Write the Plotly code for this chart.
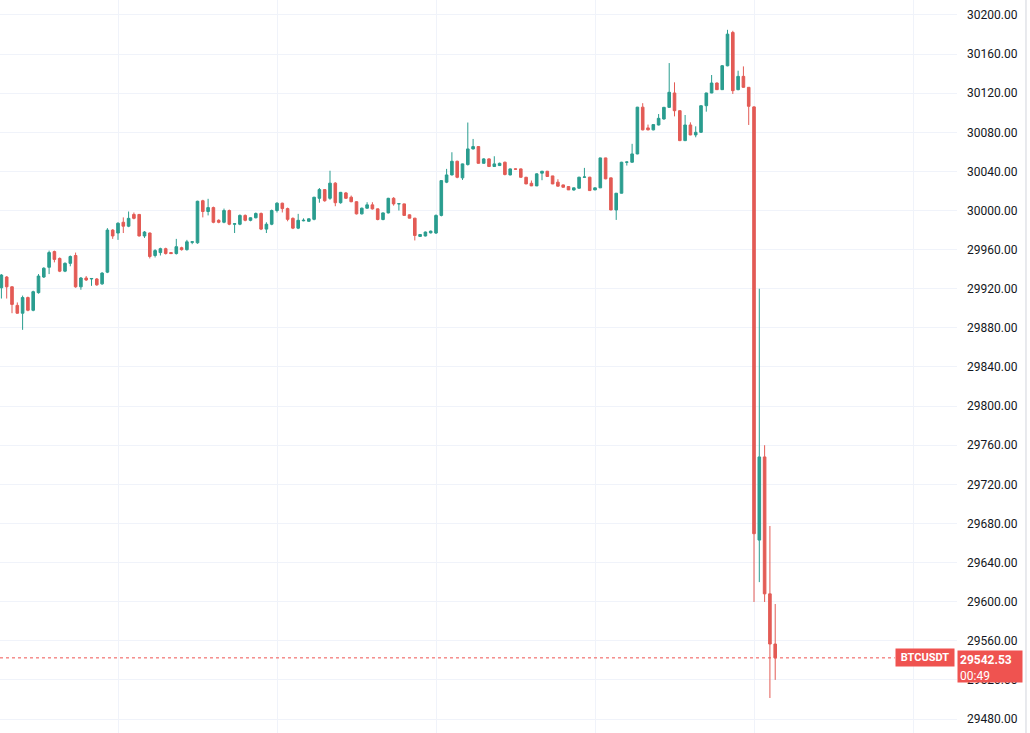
import pandas as pd
import plotly.graph_objects as go

# 1-minute BTCUSDT candles
opens = [
    29921, 29932, 29922, 29903, 29895, 29911, 29898, 29916, 29932, 29942,
    29958, 29951, 29938, 29946, 29954, 29922, 29931, 29930, 29930, 29925,
    29937, 29980, 29977, 29988, 29984, 29996, 29996, 29974, 29977, 29954,
    29957, 29961, 29957, 29956, 29962, 29960, 29967.5, 29967, 30010, 29999,
    30003, 29990, 29988, 30000, 29986, 29986, 29995, 29990, 29992.6, 29997,
    29981, 29986, 30000, 30007.5, 30002, 29992, 29982, 29989.5, 29989, 29991,
    30012.5, 30021.4, 30012.5, 30028, 30008, 30018, 30013.6, 30009, 29996.6, 30002.4,
    30005.8, 30001.7, 29990.8, 29997.6, 30012.5, 30006.8, 30006.8, 29995.6, 29992.2, 29973.5,
    29974, 29977.2, 29977, 29995, 30029, 30036.4, 30050.4, 30033.4, 30047, 30063,
    30065.4, 30048.3, 30052.8, 30045, 30046, 30049.4, 30036.4, 30042.6, 30042.6, 30034,
    30027.9, 30025.2, 30038.2, 30040.2, 30035.4, 30029, 30026.2, 30024.5, 30021, 30022.8,
    30034, 30034.1, 30021.1, 30023.2, 30053.8, 30033.4, 30000.6, 30017.7, 30049.4, 30049.4,
    30057.9, 30105.7, 30084.5, 30082.5, 30087.5, 30093.6, 30105.5, 30120.2, 30102.1, 30071.5,
    30087.5, 30077.3, 30080, 30107.2, 30120.2, 30130.4, 30123.6, 30148, 30182.1, 30123.6,
    30137.2, 30126, 30106, 29663, 29748, 29608, 29556.7,
]
highs = [
    29935, 29933, 29922.5, 29906, 29913, 29912, 29918, 29935, 29942, 29959,
    29959, 29952, 29947, 29954, 29957, 29932, 29933, 29931, 29931, 29937,
    29982, 29981, 29988, 29993, 29999, 29998, 29996.5, 29979, 29977.5, 29960.5,
    29962, 29962, 29957.5, 29971, 29963, 29970, 29968.5, 30010, 30011, 30012,
    30004, 29991, 30002, 30001, 29987, 29996, 29996, 29993, 29998, 29998,
    29988, 30001, 30008.5, 30008, 30003, 29993, 29996.6, 29992, 29992, 30014,
    30023, 30022, 30040.7, 30029, 30019, 30019, 30015.3, 30009.5, 30003, 30008.5,
    30008.5, 30002, 29998, 30013, 30013.7, 30007.5, 30007, 29996, 29992.5, 29976,
    29978.5, 29979.5, 29996, 30031, 30042.6, 30059.6, 30051, 30048, 30090, 30073.2,
    30066, 30053.5, 30053.5, 30055.5, 30049, 30050, 30043, 30043, 30043, 30034.5,
    30030.7, 30038, 30040.5, 30040.5, 30035.5, 30032, 30026.5, 30024.8, 30023.5, 30034.5,
    30043.6, 30034.5, 30023.5, 30054, 30054, 30033.5, 30018, 30049.8, 30050, 30068.2,
    30106, 30109.8, 30087.9, 30088.2, 30098.7, 30106, 30150.8, 30131.1, 30102.5, 30097.7,
    30090.2, 30086.1, 30107.5, 30120.5, 30138.6, 30131, 30148.8, 30184.8, 30183.8, 30143,
    30147.4, 30126.3, 30106.6, 29920, 29760, 29677.4, 29597.6,
]
lows = [
    29910, 29910, 29895, 29894.5, 29878, 29897, 29897, 29915, 29931, 29935,
    29947, 29937, 29937, 29943, 29921, 29919, 29928, 29923, 29923, 29924,
    29936, 29971, 29970, 29977, 29983, 29991, 29973.5, 29972, 29951, 29952,
    29954, 29955, 29955.5, 29955, 29959, 29959, 29965.6, 29966, 29993, 29995,
    29987, 29987, 29987, 29985, 29977, 29985, 29989, 29989, 29992, 29980,
    29977, 29985, 29998, 29998, 29989, 29981, 29981, 29989, 29988.5, 29990,
    30008, 30009, 30011, 30004.4, 30007, 30012, 30008.5, 29996, 29996, 30002,
    30001, 29990, 29990, 29997, 30005, 30000, 29994.9, 29992, 29969.4, 29973,
    29973.5, 29976.5, 29976, 29994, 30028, 30036, 30033, 30031.3, 30046, 30062.5,
    30048, 30048, 30044.5, 30044.5, 30045.5, 30036, 30036, 30042, 30033.5, 30027,
    30025, 30025, 30031, 30034.5, 30027, 30024.5, 30023.5, 30021, 30020.4, 30022.5,
    30033.8, 30020, 30020.8, 30023, 30032, 30000.3, 29990.4, 30017.5, 30046, 30049,
    30057.5, 30082, 30082, 30082, 30087, 30093, 30105, 30096.3, 30071, 30071,
    30077, 30074.9, 30079.5, 30101.1, 30120, 30123.3, 30123.3, 30147.5, 30119.2, 30123,
    30125.5, 30087.5, 29599.7, 29620, 29599.7, 29501.5, 29520,
]
closes = [
    29934, 29922, 29904, 29895, 29911, 29898, 29917, 29933, 29941, 29957,
    29950, 29938, 29946, 29953, 29922, 29931, 29929, 29930.5, 29924, 29936,
    29980, 29974, 29987, 29984, 29992, 29992, 29974, 29978, 29953, 29959,
    29961, 29956, 29956, 29963, 29960, 29968, 29968, 30009.5, 29999, 30003,
    29988, 29988, 30000, 29986, 29986.5, 29995, 29990, 29992.6, 29997, 29981,
    29986, 30000, 30007.5, 30002, 29991, 29982, 29990, 29990, 29991.5, 30013.6,
    30021.4, 30010, 30028, 30008, 30018.6, 30012.5, 30009, 29996.6, 30002.4, 30005.8,
    30001.7, 29990.8, 29997.6, 30012.5, 30006.8, 30007, 29995, 29992.2, 29974.5, 29975.5,
    29978, 29978.9, 29995, 30030.6, 30036.4, 30050.4, 30034, 30047.7, 30063, 30065.4,
    30048.3, 30052.8, 30045, 30047.7, 30048.3, 30036.8, 30042.6, 30042.3, 30034, 30027.2,
    30025.2, 30037.5, 30040.2, 30034.8, 30027.2, 30024.9, 30023.8, 30021.1, 30023.2, 30034.1,
    30034.3, 30020.4, 30023.2, 30053.8, 30032.4, 30000.6, 30017.7, 30049.4, 30049.6, 30057.9,
    30105.7, 30082.5, 30082.5, 30087.9, 30094.3, 30105.5, 30120.9, 30102.1, 30071.5, 30087.5,
    30077.3, 30080, 30107.2, 30120.2, 30130.4, 30123.6, 30148.1, 30180.4, 30122.6, 30137.2,
    30126, 30106.6, 29669.5, 29748, 29608, 29556.7, 29542.53,
]

symbol = "BTCUSDT"
last_price = closes[-1]
countdown = "00:49"

times = pd.date_range("2023-07-01 13:08", periods=len(closes), freq="min")

up_color = "#2a9d8f"
down_color = "#e35b55"
label_color = "#ef5350"
grid_color = "#f0f3fa"

fig = go.Figure()
fig.add_trace(go.Candlestick(
    x=times,
    open=opens,
    high=highs,
    low=lows,
    close=closes,
    increasing=dict(line=dict(color=up_color, width=1), fillcolor=up_color),
    decreasing=dict(line=dict(color=down_color, width=1), fillcolor=down_color),
    whiskerwidth=0,
    name=symbol,
))

# last price dotted line
fig.add_shape(
    type="line", xref="paper", yref="y",
    x0=0, x1=0.935, y0=last_price, y1=last_price,
    line=dict(color=label_color, width=1, dash="dot"),
)
# right edge of the price scale
fig.add_shape(
    type="line", xref="paper", yref="paper",
    x0=1.0721, x1=1.0721, y0=0, y1=1,
    line=dict(color="#d1d4dc", width=1),
)

fig.add_annotation(
    xref="paper", yref="y", x=0.998, y=last_price,
    xanchor="right", yanchor="middle",
    text=f"<b>{symbol}</b>", showarrow=False,
    font=dict(family="Roboto", size=11, color="white"),
    bgcolor=label_color, borderpad=1, width=56, height=15,
)
fig.add_annotation(
    xref="paper", yref="y", x=1.0, y=last_price,
    xanchor="left", yanchor="top", yshift=8,
    text=f"<b>{last_price:.2f}</b><br>{countdown}", showarrow=False,
    align="left", valign="top",
    font=dict(family="Roboto", size=12, color="white"),
    bgcolor=label_color, borderpad=2, width=60, height=27,
)

start = times[0]
fig.update_layout(
    width=1030,
    height=733,
    margin=dict(l=0, r=73, t=0, b=0),
    plot_bgcolor="white",
    paper_bgcolor="white",
    showlegend=False,
    font=dict(family="Roboto", size=12, color="#131722"),
)
fig.update_xaxes(
    type="date",
    range=[start - pd.Timedelta(minutes=0.264), start + pd.Timedelta(minutes=180.3)],
    tick0="2023-07-01 13:00",
    dtick=30 * 60 * 1000,
    showgrid=True,
    gridcolor=grid_color,
    showticklabels=False,
    rangeslider_visible=False,
    zeroline=False,
    showline=False,
)
fig.update_yaxes(
    side="right",
    range=[29465.7, 30215.3],
    tick0=0,
    dtick=40,
    tickformat=".2f",
    gridcolor=grid_color,
    zeroline=False,
    showline=False,
    ticks="",
    ticklabelstandoff=9,
)

# the page body has a default 8px margin; drop it so the chart fills the window
fig.write_html(
    "out.html",
    config={"displayModeBar": False},
    post_script="document.body.style.margin='0';",
)
